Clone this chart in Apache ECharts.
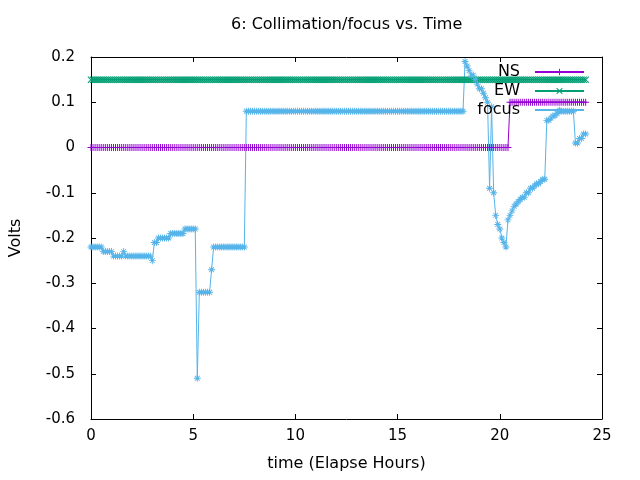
<!DOCTYPE html>
<html>
<head>
<meta charset="utf-8">
<script src="https://cdn.jsdelivr.net/npm/echarts@6/dist/echarts.min.js"></script>
<style>
  html, body { margin: 0; padding: 0; background: #fff; }
  #chart { width: 640px; height: 480px; }
</style>
</head>
<body>
<div id="chart"></div>
<script>
// readings every 0.1 h, one row per hour
var sampleStep = 0.1;

var nsRows = [
    [0,0,0,0,0,0,0,0,0,0], [0,0,0,0,0,0,0,0,0,0], [0,0,0,0,0,0,0,0,0,0], [0,0,0,0,0,0,0,0,0,0],
    [0,0,0,0,0,0,0,0,0,0], [0,0,0,0,0,0,0,0,0,0], [0,0,0,0,0,0,0,0,0,0], [0,0,0,0,0,0,0,0,0,0],
    [0,0,0,0,0,0,0,0,0,0], [0,0,0,0,0,0,0,0,0,0], [0,0,0,0,0,0,0,0,0,0], [0,0,0,0,0,0,0,0,0,0],
    [0,0,0,0,0,0,0,0,0,0], [0,0,0,0,0,0,0,0,0,0], [0,0,0,0,0,0,0,0,0,0], [0,0,0,0,0,0,0,0,0,0],
    [0,0,0,0,0,0,0,0,0,0], [0,0,0,0,0,0,0,0,0,0], [0,0,0,0,0,0,0,0,0,0], [0,0,0,0,0,0,0,0,0,0],
    [0,0,0,0,0,0.1,0.1,0.1,0.1,0.1],
    [0.1,0.1,0.1,0.1,0.1,0.1,0.1,0.1,0.1,0.1],
    [0.1,0.1,0.1,0.1,0.1,0.1,0.1,0.1,0.1,0.1],
    [0.1,0.1,0.1,0.1,0.1,0.1,0.1,0.1,0.1,0.1],
    [0.1,0.1,0.1]
];

var ewRows = [
    [0.15,0.15,0.15,0.15,0.15,0.15,0.15,0.15,0.15,0.15], [0.15,0.15,0.15,0.15,0.15,0.15,0.15,0.15,0.15,0.15],
    [0.15,0.15,0.15,0.15,0.15,0.15,0.15,0.15,0.15,0.15], [0.15,0.15,0.15,0.15,0.15,0.15,0.15,0.15,0.15,0.15],
    [0.15,0.15,0.15,0.15,0.15,0.15,0.15,0.15,0.15,0.15], [0.15,0.15,0.15,0.15,0.15,0.15,0.15,0.15,0.15,0.15],
    [0.15,0.15,0.15,0.15,0.15,0.15,0.15,0.15,0.15,0.15], [0.15,0.15,0.15,0.15,0.15,0.15,0.15,0.15,0.15,0.15],
    [0.15,0.15,0.15,0.15,0.15,0.15,0.15,0.15,0.15,0.15], [0.15,0.15,0.15,0.15,0.15,0.15,0.15,0.15,0.15,0.15],
    [0.15,0.15,0.15,0.15,0.15,0.15,0.15,0.15,0.15,0.15], [0.15,0.15,0.15,0.15,0.15,0.15,0.15,0.15,0.15,0.15],
    [0.15,0.15,0.15,0.15,0.15,0.15,0.15,0.15,0.15,0.15], [0.15,0.15,0.15,0.15,0.15,0.15,0.15,0.15,0.15,0.15],
    [0.15,0.15,0.15,0.15,0.15,0.15,0.15,0.15,0.15,0.15], [0.15,0.15,0.15,0.15,0.15,0.15,0.15,0.15,0.15,0.15],
    [0.15,0.15,0.15,0.15,0.15,0.15,0.15,0.15,0.15,0.15], [0.15,0.15,0.15,0.15,0.15,0.15,0.15,0.15,0.15,0.15],
    [0.15,0.15,0.15,0.15,0.15,0.15,0.15,0.15,0.15,0.15], [0.15,0.15,0.15,0.15,0.15,0.15,0.15,0.15,0.15,0.15],
    [0.15,0.15,0.15,0.15,0.15,0.15,0.15,0.15,0.15,0.15], [0.15,0.15,0.15,0.15,0.15,0.15,0.15,0.15,0.15,0.15],
    [0.15,0.15,0.15,0.15,0.15,0.15,0.15,0.15,0.15,0.15], [0.15,0.15,0.15,0.15,0.15,0.15,0.15,0.15,0.15,0.15],
    [0.15,0.15,0.15]
];

var focusRows = [
    [-0.22,-0.22,-0.22,-0.22,-0.22,-0.22,-0.23,-0.23,-0.23,-0.23],
    [-0.23,-0.24,-0.24,-0.24,-0.24,-0.24,-0.23,-0.24,-0.24,-0.24],
    [-0.24,-0.24,-0.24,-0.24,-0.24,-0.24,-0.24,-0.24,-0.24,-0.24],
    [-0.25,-0.21,-0.21,-0.20,-0.20,-0.20,-0.20,-0.20,-0.20,-0.19],
    [-0.19,-0.19,-0.19,-0.19,-0.19,-0.19,-0.18,-0.18,-0.18,-0.18],
    [-0.18,-0.18,-0.51,-0.32,-0.32,-0.32,-0.32,-0.32,-0.32,-0.27],
    [-0.22,-0.22,-0.22,-0.22,-0.22,-0.22,-0.22,-0.22,-0.22,-0.22],
    [-0.22,-0.22,-0.22,-0.22,-0.22,-0.22,0.08,0.08,0.08,0.08],
    [0.08,0.08,0.08,0.08,0.08,0.08,0.08,0.08,0.08,0.08],
    [0.08,0.08,0.08,0.08,0.08,0.08,0.08,0.08,0.08,0.08],
    [0.08,0.08,0.08,0.08,0.08,0.08,0.08,0.08,0.08,0.08],
    [0.08,0.08,0.08,0.08,0.08,0.08,0.08,0.08,0.08,0.08],
    [0.08,0.08,0.08,0.08,0.08,0.08,0.08,0.08,0.08,0.08],
    [0.08,0.08,0.08,0.08,0.08,0.08,0.08,0.08,0.08,0.08],
    [0.08,0.08,0.08,0.08,0.08,0.08,0.08,0.08,0.08,0.08],
    [0.08,0.08,0.08,0.08,0.08,0.08,0.08,0.08,0.08,0.08],
    [0.08,0.08,0.08,0.08,0.08,0.08,0.08,0.08,0.08,0.08],
    [0.08,0.08,0.08,0.08,0.08,0.08,0.08,0.08,0.08,0.08],
    [0.08,0.08,0.08,0.19,0.18,0.17,0.16,0.16,0.15,0.14],
    [0.13,0.13,0.12,0.11,0.10,-0.09,0.09,-0.10,-0.15,-0.17],
    [-0.18,-0.20,-0.21,-0.22,-0.16,-0.15,-0.14,-0.13,-0.125,-0.12],
    [-0.115,-0.11,-0.11,-0.10,-0.10,-0.09,-0.09,-0.085,-0.08,-0.08],
    [-0.075,-0.07,-0.07,0.06,0.06,0.065,0.07,0.07,0.075,0.08],
    [0.08,0.08,0.08,0.08,0.08,0.08,0.08,0.01,0.01,0.02],
    [0.02,0.03,0.03]
];

var seriesNames = ['NS', 'EW', 'focus'];
var seriesColors = ['#9400d3', '#009e73', '#56b4e9'];
var xTicks = { min: 0, max: 25, step: 5 };
var yTicks = { min: -0.6, max: 0.2, step: 0.1 };

var FONT = 'DejaVu Sans';

// gnuplot style point shapes (+, x, *) as thin filled outlines in a 14x14 box
var plusPath = 'path://M6,0L8,0L8,6L14,6L14,8L8,8L8,14L6,14L6,8L0,8L0,6L6,6Z';
var crossPath = 'path://M1.5,0L7,5.5L12.5,0L14,1.5L8.5,7L14,12.5L12.5,14L7,8.5L1.5,14L0,12.5L5.5,7L0,1.5Z';
var starPath = 'path://M6.1,0L7.9,0L7.9,6.1L14,6.1L14,7.9L7.9,7.9L7.9,14L6.1,14L6.1,7.9L0,7.9L0,6.1L6.1,6.1Z' +
    'M2.9,1.6L7,5.7L11.1,1.6L12.4,2.9L8.3,7L12.4,11.1L11.1,12.4L7,8.3L2.9,12.4L1.6,11.1L5.7,7L1.6,2.9Z';

function toPairs(rows) {
    var flat = [].concat.apply([], rows);
    return flat.map(function(v, i) {
        return [+(i * sampleStep).toFixed(1), v];
    });
}

function makeSeries(name, rows, color, symbol, size) {
    return {
        name: name,
        type: 'line',
        data: toPairs(rows),
        symbol: symbol,
        symbolSize: size,
        showAllSymbol: true,
        color: color,
        lineStyle: { width: 1, color: color },
        itemStyle: { color: color, borderWidth: 0 },
        emphasis: { disabled: true }
    };
}

function makeLegend(name, top) {
    return {
        data: [name],
        right: 55,
        top: top,
        padding: 0,
        align: 'right',
        itemWidth: 49,
        itemHeight: 8,
        selectedMode: false,
        textStyle: {
            fontFamily: FONT,
            fontSize: 16,
            color: '#000',
            padding: [0, 10, 0, 0]
        }
    };
}

var chart = echarts.init(document.getElementById('chart'), null, { renderer: 'canvas' });

var option = {
    animation: false,
    backgroundColor: '#fff',
    title: {
        text: '6: Collimation/focus vs. Time',
        left: 231,
        top: 17,
        padding: 0,
        textStyle: { fontFamily: FONT, fontSize: 16, fontWeight: 'normal', color: '#000' }
    },
    legend: [
        makeLegend(seriesNames[0], 64),
        makeLegend(seriesNames[1], 83),
        makeLegend(seriesNames[2], 102)
    ],
    grid: { left: 91, right: 38, top: 57, bottom: 61 },
    xAxis: [{
        type: 'value',
        min: xTicks.min,
        max: xTicks.max,
        interval: xTicks.step,
        name: 'time (Elapse Hours)',
        nameLocation: 'middle',
        nameGap: 37,
        nameTextStyle: { fontFamily: FONT, fontSize: 16, color: '#000' },
        axisLine: { onZero: false, lineStyle: { color: '#000', width: 1 } },
        axisTick: { inside: true, length: 5, lineStyle: { color: '#000' } },
        axisLabel: { fontFamily: FONT, fontSize: 15, color: '#000', margin: 10 },
        splitLine: { show: false }
    }, {
        type: 'value',
        position: 'top',
        min: xTicks.min,
        max: xTicks.max,
        interval: xTicks.step,
        axisLine: { onZero: false, lineStyle: { color: '#000', width: 1 } },
        axisTick: { inside: true, length: 5, lineStyle: { color: '#000' } },
        axisLabel: { show: false },
        splitLine: { show: false }
    }],
    yAxis: [{
        type: 'value',
        min: yTicks.min,
        max: yTicks.max,
        interval: yTicks.step,
        name: 'Volts',
        nameLocation: 'middle',
        nameGap: 67,
        nameTextStyle: { fontFamily: FONT, fontSize: 16, color: '#000' },
        axisLine: { show: true, onZero: false, lineStyle: { color: '#000', width: 1 } },
        axisTick: { show: true, inside: true, length: 5, lineStyle: { color: '#000' } },
        axisLabel: {
            fontFamily: FONT, fontSize: 15, color: '#000', margin: 16,
            formatter: function(v) { return String(+v.toFixed(1)); }
        },
        splitLine: { show: false }
    }, {
        type: 'value',
        position: 'right',
        min: yTicks.min,
        max: yTicks.max,
        interval: yTicks.step,
        axisLine: { show: true, onZero: false, lineStyle: { color: '#000', width: 1 } },
        axisTick: { show: true, inside: true, length: 5, lineStyle: { color: '#000' } },
        axisLabel: { show: false },
        splitLine: { show: false }
    }],
    series: [
        makeSeries(seriesNames[0], nsRows, seriesColors[0], plusPath, 7),
        makeSeries(seriesNames[1], ewRows, seriesColors[1], crossPath, 7),
        makeSeries(seriesNames[2], focusRows, seriesColors[2], starPath, 7)
    ]
};

chart.setOption(option);
</script>
</body>
</html>
